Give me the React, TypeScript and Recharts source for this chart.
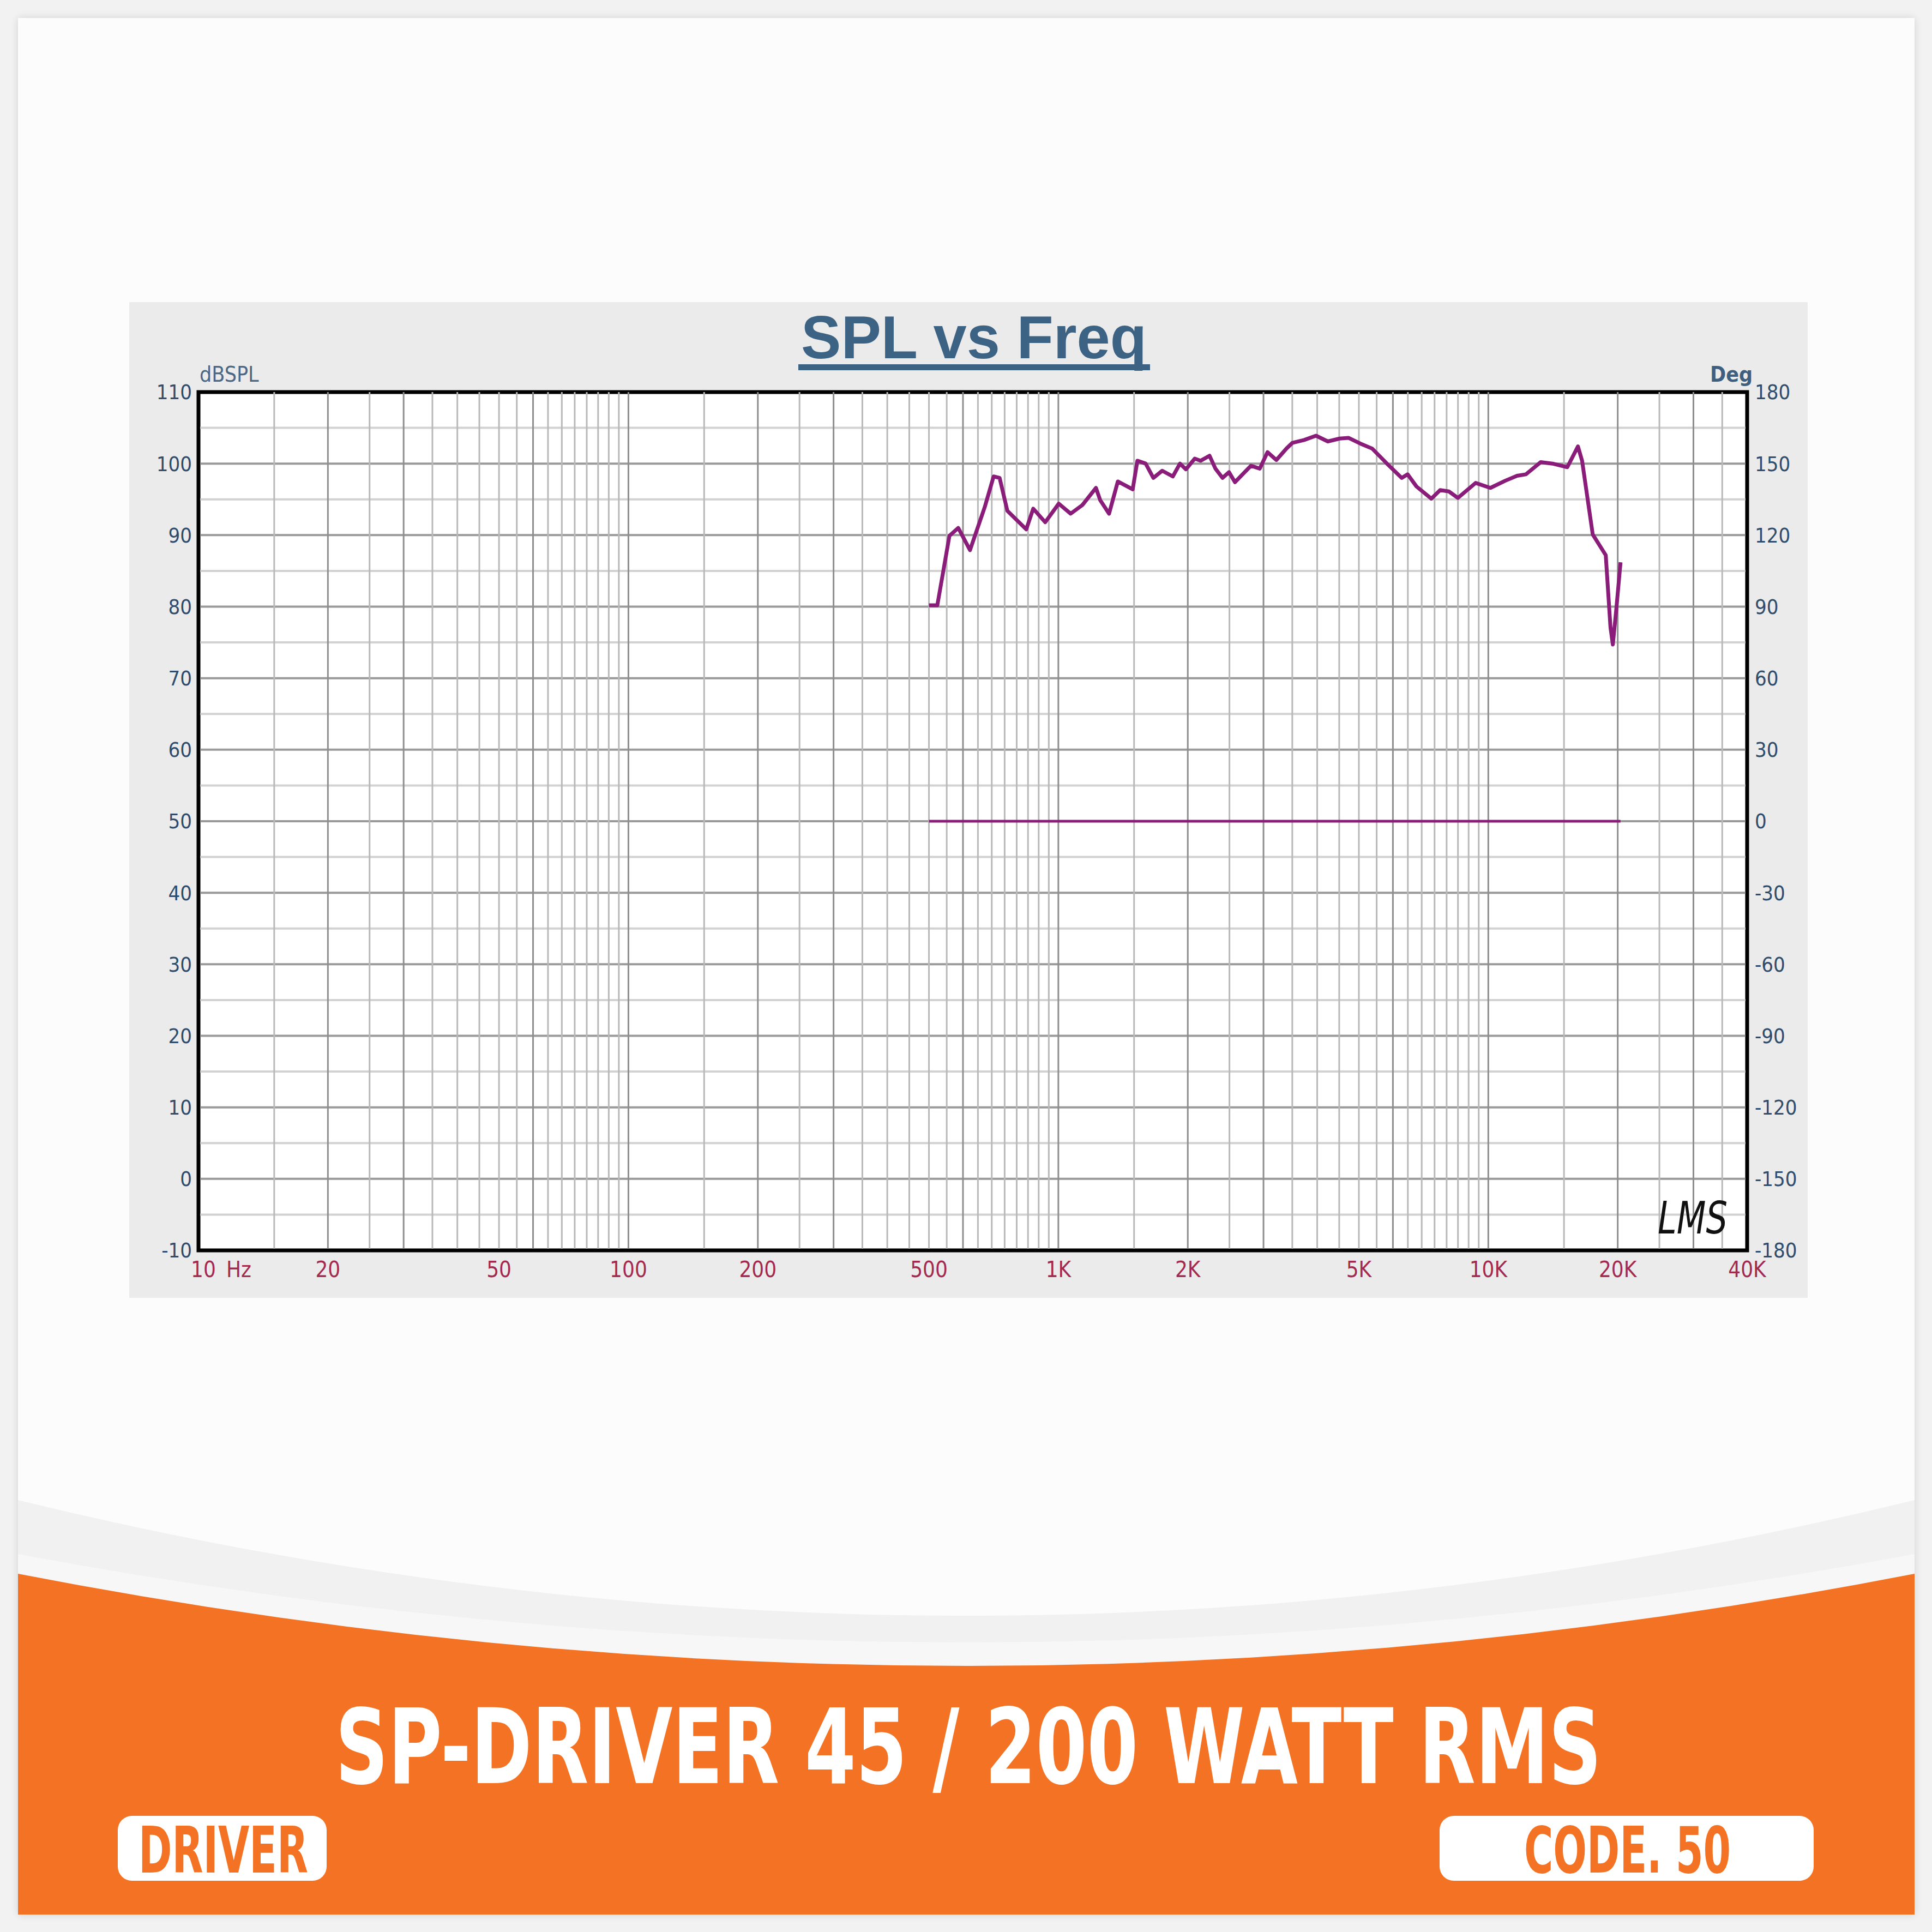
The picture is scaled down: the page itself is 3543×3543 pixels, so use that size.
import React from 'react';
import { LineChart, Line, XAxis, YAxis, ReferenceLine, ReferenceArea } from 'recharts';

// ---------- DATA ----------
const freqHz = [500, 523, 558, 585, 623, 674, 707, 730, 761, 842, 874, 932, 1002, 1068, 1137, 1223, 1251, 1312, 1375, 1489, 1527, 1596, 1663, 1744, 1846, 1918, 1980, 2076, 2143, 2247, 2319, 2409, 2494, 2575, 2805, 2941, 3065, 3214, 3392, 3502, 3730, 3974, 4234, 4510, 4729, 5039, 5369, 5811, 6290, 6492, 6807, 7371, 7727, 8102, 8497, 9344, 10113, 10947, 11665, 12230, 13241, 14105, 15268, 16164, 16526, 17495, 18758, 19239, 19484, 19859, 20305];
const splDb = [80.2, 80.2, 89.9, 91.0, 87.9, 93.9, 98.2, 98.0, 93.4, 90.8, 93.7, 91.8, 94.4, 93.0, 94.2, 96.6, 94.9, 93.0, 97.5, 96.4, 100.4, 100.0, 98.0, 99.0, 98.2, 100.0, 99.2, 100.7, 100.4, 101.1, 99.3, 98.0, 98.8, 97.4, 99.7, 99.3, 101.6, 100.5, 102.1, 102.9, 103.3, 103.9, 103.1, 103.5, 103.6, 102.8, 102.1, 100.0, 98.0, 98.5, 96.8, 95.1, 96.3, 96.1, 95.2, 97.3, 96.6, 97.6, 98.3, 98.5, 100.2, 100.0, 99.5, 102.4, 100.4, 90.1, 87.2, 77.1, 74.7, 79.8, 86.2];
const phaseFreqHz = [500, 20300];
const phaseDeg = [0, 0];

const xTicks = [10, 20, 50, 100, 200, 500, 1000, 2000, 5000, 10000, 20000, 40000];
const xTickLabels = ['10', '20', '50', '100', '200', '500', '1K', '2K', '5K', '10K', '20K', '40K'];
const splTicks = [-10, 0, 10, 20, 30, 40, 50, 60, 70, 80, 90, 100, 110];
const degTicks = [-180, -150, -120, -90, -60, -30, 0, 30, 60, 90, 120, 150, 180];
const splMinorTicks = [-5, 5, 15, 25, 35, 45, 55, 65, 75, 85, 95, 105];
const gridMantissas = [1, 1.5, 2, 2.5, 3, 3.5, 4, 4.5, 5, 5.5, 6, 6.5, 7, 7.5, 8, 8.5, 9, 9.5];
const gridDecades = [10, 100, 1000, 10000];
const darkMantissas = [1, 2, 3, 6];

const splData = freqHz.map((f, i) => ({ f, spl: splDb[i] }));
const phaseData = phaseFreqHz.map((f, i) => ({ f, deg: phaseDeg[i] }));

const vGrid: { v: number; dark: boolean }[] = [];
gridDecades.forEach((d) =>
  gridMantissas.forEach((m) => {
    const v = m * d;
    if (v > 10 && v < 40000) vGrid.push({ v, dark: darkMantissas.includes(m) });
  })
);

const CURVE = '#8a1c7a';
const YLAB = '#2f4c6c';
const XLAB = '#a3294f';
const ORANGE = '#f37223';
const TICK_FONT = '"Liberation Sans Narrow", "DejaVu Sans Condensed", "Liberation Sans", Arial, sans-serif';

const XTick = (props: any) => {
  const { x, y, payload } = props;
  const idx = xTicks.indexOf(payload.value);
  const label = idx >= 0 ? xTickLabels[idx] : String(payload.value);
  const common = { fill: XLAB, fontSize: 40, fontFamily: TICK_FONT, dy: '0.71em' } as any;
  if (payload.value === 10) {
    return (
      <g>
        <text x={x + 9} y={y} textAnchor="middle" {...common}>10</text>
        <text x={x + 74} y={y} textAnchor="middle" {...common}>Hz</text>
      </g>
    );
  }
  return (
    <text x={x} y={y} textAnchor="middle" {...common}>
      {label}
    </text>
  );
};

const BANNER_FONT = '"DejaVu Sans Condensed", "Liberation Sans Narrow", "DejaVu Sans", sans-serif';

export default function App() {
  return (
    <div style={{ position: 'absolute', left: 0, top: 0, width: 3543, height: 3543, background: '#f2f2f2', overflow: 'hidden' }}>
      <div
        style={{
          position: 'absolute', left: 33, top: 33, width: 3478, height: 3478,
          background: '#fcfcfc', boxShadow: '0 0 14px rgba(0,0,0,0.13)',
        }}
      />
      <svg width={3543} height={3543} style={{ position: 'absolute', left: 0, top: 0 }}>
        <defs>
          <clipPath id="card">
            <rect x={33} y={33} width={3478} height={3478} />
          </clipPath>
        </defs>
        <g clipPath="url(#card)">
          <path d="M 33 2751 Q 1772 3175 3511 2751 L 3511 3511 L 33 3511 Z" fill="#f1f1f1" />
          <path d="M 33 2850 Q 1772 3174 3511 2850 L 3511 3511 L 33 3511 Z" fill="#f7f7f7" />
          <path d="M 33 2886 Q 1772 3224 3511 2886 L 3511 3511 L 33 3511 Z" fill={ORANGE} />
        </g>
        <g transform="translate(0 3270) scale(1 1.34) translate(0 -3270)">
          <text x={615} y={3270} fontSize={143} fontWeight={700} fontFamily={BANNER_FONT} fill="#ffffff" textLength={2322} lengthAdjust="spacingAndGlyphs">
            SP-DRIVER 45 / 200 WATT RMS
          </text>
        </g>
        <rect x={216} y={3330} width={383} height={119} rx={26} fill="#ffffff" />
        <g transform="translate(0 3434) scale(1 1.5) translate(0 -3434)">
          <text x={254} y={3434} fontSize={79} fontWeight={700} fontFamily={BANNER_FONT} fill={ORANGE} textLength={311} lengthAdjust="spacingAndGlyphs">
            DRIVER
          </text>
        </g>
        <rect x={2640} y={3330} width={686} height={119} rx={26} fill="#ffffff" />
        <g transform="translate(0 3434) scale(1 1.5) translate(0 -3434)">
          <text x={2795} y={3434} fontSize={79} fontWeight={700} fontFamily={BANNER_FONT} fill={ORANGE} textLength={379} lengthAdjust="spacingAndGlyphs">
            CODE. 50
          </text>
        </g>
      </svg>

      <div style={{ position: 'absolute', left: 237, top: 554, width: 3078, height: 1826, background: '#ebebeb' }}>
        <LineChart width={3078} height={1826} margin={{ top: 165, right: 11, bottom: 27, left: 27 }}>
          <XAxis
            dataKey="f"
            type="number"
            scale="log"
            domain={[10, 40000]}
            ticks={xTicks}
            interval={0}
            allowDataOverflow
            height={60}
            tickLine={false}
            tickSize={6}
            tickMargin={15}
            axisLine={{ stroke: '#000', strokeWidth: 6 }}
            tick={<XTick />}
          />
          <YAxis
            yAxisId="spl"
            type="number"
            domain={[-10, 110]}
            ticks={splTicks}
            interval={0}
            width={100}
            tickLine={false}
            tickSize={6}
            tickMargin={6}
            axisLine={{ stroke: '#000', strokeWidth: 6 }}
            tick={{ fill: YLAB, fontSize: 38, fontFamily: TICK_FONT }}
          />
          <YAxis
            yAxisId="deg"
            orientation="right"
            type="number"
            domain={[-180, 180]}
            ticks={degTicks}
            interval={0}
            width={100}
            tickLine={false}
            tickSize={6}
            tickMargin={8}
            axisLine={{ stroke: '#000', strokeWidth: 6 }}
            tick={{ fill: YLAB, fontSize: 38, fontFamily: TICK_FONT, textAnchor: 'start' }}
          />
          <ReferenceArea yAxisId="spl" x1={10} x2={40000} y1={-10} y2={110} fill="#ffffff" fillOpacity={1} stroke="none" />
          {splMinorTicks.map((v) => (
            <ReferenceLine key={'hm' + v} yAxisId="spl" y={v} stroke="#d2d2d2" strokeWidth={4} />
          ))}
          {splTicks.slice(1, -1).map((v) => (
            <ReferenceLine key={'hM' + v} yAxisId="spl" y={v} stroke="#9a9a9a" strokeWidth={4} />
          ))}
          {vGrid.map((g) => (
            <ReferenceLine key={'v' + g.v} yAxisId="spl" x={g.v} stroke={g.dark ? '#8e8e8e' : '#b9b9b9'} strokeWidth={3} />
          ))}
          <ReferenceArea yAxisId="spl" x1={10} x2={40000} y1={-10} y2={110} fill="none" stroke="#000" strokeWidth={7} />
          <Line
            yAxisId="deg"
            data={phaseData}
            dataKey="deg"
            type="linear"
            stroke={CURVE}
            strokeWidth={5}
            dot={false}
            activeDot={false}
            isAnimationActive={false}
            zIndex={900}
          />
          <Line
            yAxisId="spl"
            data={splData}
            dataKey="spl"
            type="linear"
            stroke={CURVE}
            strokeWidth={7}
            strokeLinejoin="round"
            dot={false}
            activeDot={false}
            isAnimationActive={false}
            zIndex={900}
          />
        </LineChart>
      </div>

      <svg width={3543} height={3543} style={{ position: 'absolute', left: 0, top: 0, pointerEvents: 'none' }}>
        <text x={1786} y={657} textAnchor="middle" fontSize={112} fontWeight={700} fontFamily='"Liberation Sans", Arial, sans-serif' fill="#3c6384" textLength={634} lengthAdjust="spacingAndGlyphs">
          SPL vs Freq
        </text>
        <rect x={1464} y={668} width={645} height={11} fill="#3c6384" />
        <text x={366} y={700} fontSize={39} fontFamily={TICK_FONT} fill="#4a6886">dBSPL</text>
        <text x={3136} y={700} fontSize={39} fontWeight={700} fontFamily={TICK_FONT} fill="#3f5f80">Deg</text>
        <text x={3040} y={2262} fontSize={82} fontStyle="italic" fontFamily='"DejaVu Sans", sans-serif' fill="#111" textLength={128} lengthAdjust="spacingAndGlyphs">
          LMS
        </text>
      </svg>
    </div>
  );
}
